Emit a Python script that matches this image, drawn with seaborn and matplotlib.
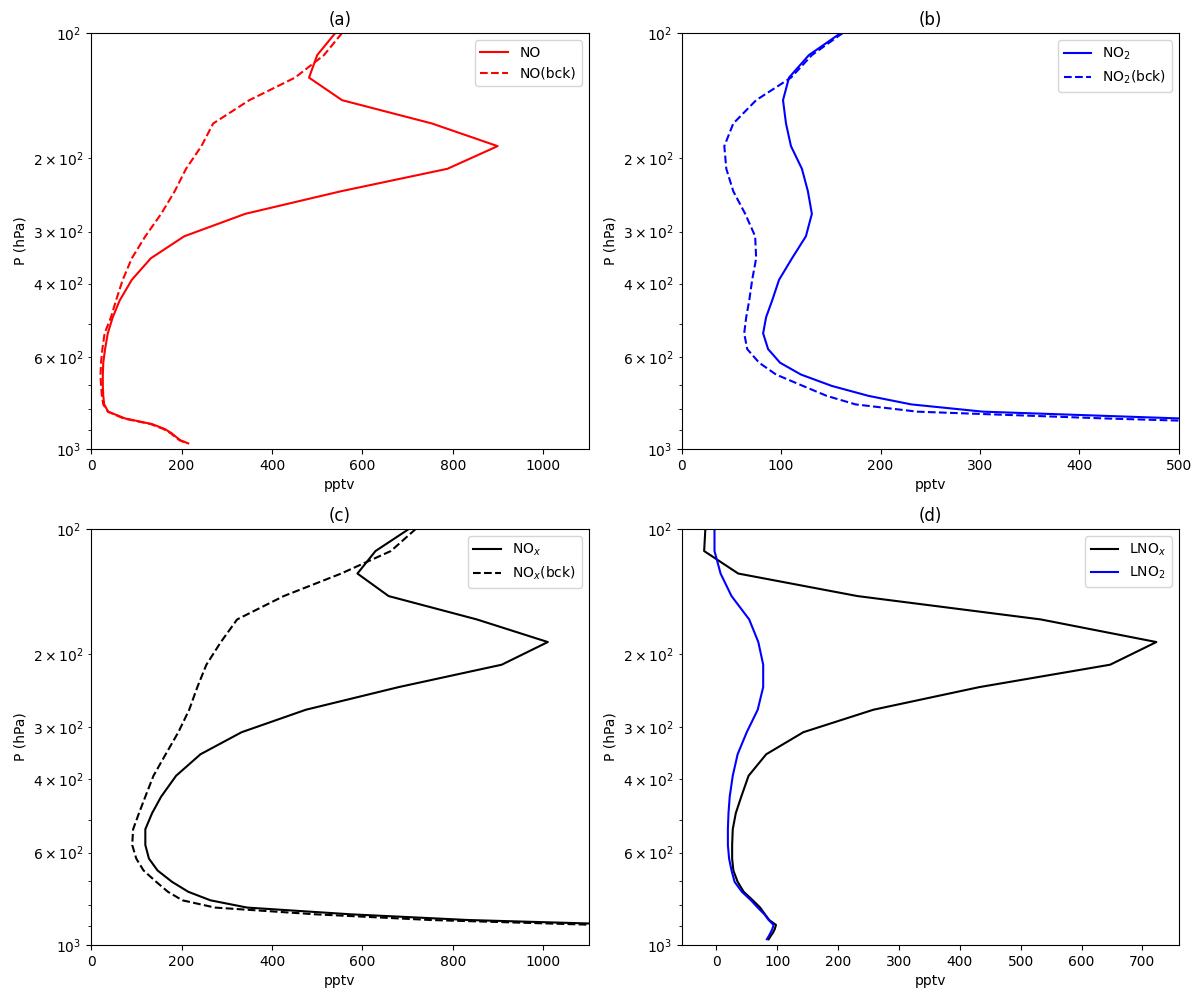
import numpy as np
import pandas as pd
import matplotlib
matplotlib.use("Agg")
import matplotlib.pyplot as plt
import seaborn as sns

# Niveles de presion (hPa)
p = [100, 113, 128, 145, 165, 187, 212, 240, 272, 308, 348, 392, 440, 482,
     527, 575, 620, 662, 705, 745, 781, 813, 844, 871, 895, 916, 935, 953, 969]

# Perfiles (pptv)
no = [540, 500, 482, 555, 754, 899, 788, 553, 341, 206, 132, 90, 63, 48,
      37, 31, 27, 26, 26, 27, 29, 38, 75, 135, 163, 178, 188, 198, 215]
no_bck = [555, 515, 451, 350, 270, 244, 210, 185, 155, 120, 90, 70, 55, 44,
          30, 25, 22, 21, 22, 24, 27, 37, 72, 132, 160, 176, 186, 196, 213]

no2 = [160, 128, 108, 102, 105, 110, 121, 127, 131, 125, 111, 98, 91, 85,
       82, 87, 99, 120, 151, 188, 231, 303, 500, 700, 1050, 1400, 1700, 1900, 2000]
no2_bck = [162, 131, 110, 75, 52, 43, 45, 52, 64, 74, 75, 71, 68, 65,
           63, 66, 78, 95, 122, 146, 175, 237, 425, 620, 960, 1310, 1610, 1810, 1915]

nox = [703, 629, 589, 658, 853, 1010, 908, 680, 475, 333, 242, 188, 155, 135,
       120, 120, 128, 147, 179, 215, 264, 345, 575, 835, 1213, 1578, 1888, 2098, 2215]
nox_bck = [718, 663, 553, 426, 323, 287, 255, 235, 217, 193, 165, 138, 120, 106,
           93, 91, 100, 116, 144, 170, 202, 274, 497, 752, 1120, 1486, 1796, 2006, 2128]

lnox = [-18, -20, 36, 232, 533, 723, 647, 432, 258, 143, 82, 53, 41, 32,
        27, 26, 26, 28, 35, 45, 60, 72, 80, 87, 98, 96, 93, 89, 86]
lno2 = [-3, -3, 7, 25, 54, 69, 77, 77, 68, 50, 35, 27, 22, 20,
        19, 19, 21, 25, 30, 42, 57, 68, 79, 86, 94, 92, 89, 86, 83]

fig, axes = plt.subplots(2, 2, figsize=(11.95, 9.92), dpi=100)
fig.subplots_adjust(left=0.0762, right=0.9866, top=0.9667, bottom=0.0474,
                    wspace=0.187, hspace=0.192)

paneles = [
    (axes[0, 0], "(a)", [(no, "NO", "red", "-"), (no_bck, "NO(bck)", "red", "--")], (0, 1100)),
    (axes[0, 1], "(b)", [(no2, "NO$_2$", "blue", "-"), (no2_bck, "NO$_2$(bck)", "blue", "--")], (0, 500)),
    (axes[1, 0], "(c)", [(nox, "NO$_x$", "black", "-"), (nox_bck, "NO$_x$(bck)", "black", "--")], (0, 1100)),
    (axes[1, 1], "(d)", [(lnox, "LNO$_x$", "black", "-"), (lno2, "LNO$_2$", "blue", "-")], None),
]

for ax, titulo, series, xlim in paneles:
    for valores, etiqueta, color, estilo in series:
        sns.lineplot(x=valores, y=p, sort=False, estimator=None, ax=ax,
                     color=color, linestyle=estilo, linewidth=1.5, label=etiqueta)
    ax.set_yscale("log")
    ax.set_ylim(1000, 100)
    if xlim is not None:
        ax.set_xlim(*xlim)
    ax.set_title(titulo)
    ax.set_xlabel("pptv")
    ax.set_ylabel("P (hPa)")
    ax.legend(loc="upper right")

plt.savefig("out.png", dpi=100)
